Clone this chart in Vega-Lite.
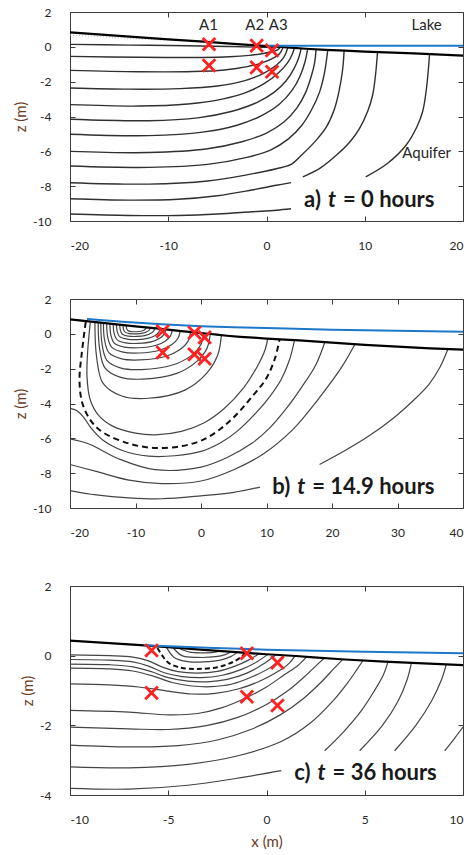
{
"$schema":"https://vega.github.io/schema/vega-lite/v6.json",
"background":"white",
"padding":{"left":13,"top":5,"right":1,"bottom":4},
"spacing":78,
"bounds":"flush",
"config":{
 "view":{"stroke":"#3c3c3c","strokeWidth":1},
 "axis":{"grid":false,"domain":false,"tickColor":"#3c3c3c","tickWidth":1,"tickSize":-5,"labelPadding":24,"labelFont":"Lato","labelFontSize":12,"labelColor":"#262626","labelExpr":"replace(datum.label, '\u2212', '-')","titleFont":"Lato","titleFontSize":15,"titleFontWeight":"normal","titleColor":"#6b3a22","titlePadding":4},
 "text":{"font":"Lato"}
},
"datasets":{
 "surface":[{"x":-20,"z":0.83},{"x":-15,"z":0.63},{"x":-10,"z":0.43},{"x":-6.4,"z":0.3},{"x":-3,"z":0.16},{"x":-1,"z":0.08},{"x":0,"z":0.04},{"x":1.5,"z":-0.01},{"x":2.4,"z":-0.05},{"x":4,"z":-0.11},{"x":6,"z":-0.17},{"x":8,"z":-0.22},{"x":10,"z":-0.27},{"x":15,"z":-0.38},{"x":20,"z":-0.5},{"x":25,"z":-0.63},{"x":30,"z":-0.74},{"x":35,"z":-0.83},{"x":40,"z":-0.91}],
 "lake_a":[{"x":0,"z":0.06},{"x":20,"z":0.06}],
 "lake_b":[{"x":-17.4,"z":0.86},{"x":-12,"z":0.7},{"x":-6,"z":0.55},{"x":0,"z":0.44},{"x":5,"z":0.38},{"x":10,"z":0.33},{"x":20,"z":0.24},{"x":30,"z":0.17},{"x":40,"z":0.12}],
 "lake_c":[{"x":-6.25,"z":0.3},{"x":-3,"z":0.23},{"x":0,"z":0.17},{"x":5,"z":0.115},{"x":10,"z":0.07}],
 "sensors":[{"x":-5.85,"z":0.15},{"x":-5.85,"z":-1.07},{"x":-1.0,"z":0.07},{"x":-1.0,"z":-1.18},{"x":0.56,"z":-0.2},{"x":0.56,"z":-1.43}],
 "a_text":[{"x":-5.9,"z":1.23,"t":"A1"},{"x":-1.2,"z":1.23,"t":"A2"},{"x":1.2,"z":1.23,"t":"A3"},{"x":16.3,"z":1.23,"t":"Lake"},{"x":16.3,"z":-6.07,"t":"Aquifer"}],
 "labels":[{"p":"a","x":6.66,"z":-8.81,"pre":"a)","t":"t","post":"= 0 hours"},{"p":"b","x":15.3,"z":-8.81,"pre":"b)","t":"t","post":"= 14.9 hours"},{"p":"c","x":2.8,"z":-3.38,"pre":"c)","t":"t","post":"= 36 hours"}],
 "a_dots":[{"x":-20,"z":0.68},{"x":-15,"z":0.52},{"x":-10.5,"z":0.38}],
 "a_lines":[
  {"k":"L1","x":-20,"z":0.14},{"k":"L1","x":-14,"z":0.1},{"k":"L1","x":-8,"z":0.06},{"k":"L1","x":-4,"z":0.02},{"k":"L1","x":-1,"z":-0.02},{"k":"L1","x":0.5,"z":-0.03},{"k":"L1","x":1.2,"z":0.01},
  {"k":"L2","x":-20,"z":-0.55},{"k":"L2","x":-13,"z":-0.6},{"k":"L2","x":-6.55,"z":-0.61},{"k":"L2","x":-3.75,"z":-0.57},{"k":"L2","x":-1.75,"z":-0.49},{"k":"L2","x":-0.31,"z":-0.38},{"k":"L2","x":0.65,"z":-0.27},{"k":"L2","x":1.13,"z":-0.17},{"k":"L2","x":1.45,"z":0.0},
  {"k":"L3","x":-20,"z":-1.35},{"k":"L3","x":-13,"z":-1.43},{"k":"L3","x":-7.5,"z":-1.42},{"k":"L3","x":-4.28,"z":-1.33},{"k":"L3","x":-1.98,"z":-1.14},{"k":"L3","x":-0.32,"z":-0.89},{"k":"L3","x":0.78,"z":-0.62},{"k":"L3","x":1.33,"z":-0.4},{"k":"L3","x":1.7,"z":-0.01},
  {"k":"L4","x":-20,"z":-2.36},{"k":"L4","x":-14,"z":-2.43},{"k":"L4","x":-8.8,"z":-2.4},{"k":"L4","x":-5,"z":-2.25},{"k":"L4","x":-2.2,"z":-1.94},{"k":"L4","x":-0.3,"z":-1.52},{"k":"L4","x":1.0,"z":-1.06},{"k":"L4","x":1.7,"z":-0.65},{"k":"L4","x":2.0,"z":-0.32},{"k":"L4","x":2.17,"z":-0.03},
  {"k":"L5","x":-20,"z":-3.32},{"k":"L5","x":-13,"z":-3.4},{"k":"L5","x":-8,"z":-3.28},{"k":"L5","x":-4.5,"z":-3.0},{"k":"L5","x":-2,"z":-2.6},{"k":"L5","x":-0.2,"z":-2.1},{"k":"L5","x":1.2,"z":-1.5},{"k":"L5","x":2.1,"z":-0.95},{"k":"L5","x":2.6,"z":-0.45},{"k":"L5","x":2.85,"z":-0.05},
  {"k":"L6","x":-20,"z":-4.16},{"k":"L6","x":-12,"z":-4.24},{"k":"L6","x":-7,"z":-4.08},{"k":"L6","x":-3.5,"z":-3.7},{"k":"L6","x":-1,"z":-3.2},{"k":"L6","x":0.8,"z":-2.6},{"k":"L6","x":2.0,"z":-1.95},{"k":"L6","x":2.8,"z":-1.25},{"k":"L6","x":3.3,"z":-0.6},{"k":"L6","x":3.53,"z":-0.08},
  {"k":"L7","x":-20,"z":-5.02},{"k":"L7","x":-12,"z":-5.1},{"k":"L7","x":-6.5,"z":-4.9},{"k":"L7","x":-3,"z":-4.5},{"k":"L7","x":-0.5,"z":-3.95},{"k":"L7","x":1.3,"z":-3.3},{"k":"L7","x":2.6,"z":-2.5},{"k":"L7","x":3.4,"z":-1.7},{"k":"L7","x":3.9,"z":-0.9},{"k":"L7","x":4.2,"z":-0.1},
  {"k":"L8","x":-20,"z":-6.0},{"k":"L8","x":-12,"z":-6.07},{"k":"L8","x":-6,"z":-5.85},{"k":"L8","x":-2.5,"z":-5.45},{"k":"L8","x":0,"z":-4.95},{"k":"L8","x":1.8,"z":-4.3},{"k":"L8","x":3.1,"z":-3.5},{"k":"L8","x":4.0,"z":-2.6},{"k":"L8","x":4.6,"z":-1.6},{"k":"L8","x":4.9,"z":-0.9},{"k":"L8","x":5.05,"z":-0.13},
  {"k":"L9","x":-20,"z":-6.84},{"k":"L9","x":-12,"z":-6.92},{"k":"L9","x":-6,"z":-6.75},{"k":"L9","x":-2,"z":-6.35},{"k":"L9","x":0.5,"z":-5.9},{"k":"L9","x":2.2,"z":-5.3},{"k":"L9","x":3.6,"z":-4.5},{"k":"L9","x":4.6,"z":-3.6},{"k":"L9","x":5.4,"z":-2.6},{"k":"L9","x":5.9,"z":-1.5},{"k":"L9","x":6.24,"z":-0.16},
  {"k":"L10","x":-20,"z":-7.8},{"k":"L10","x":-12,"z":-7.88},{"k":"L10","x":-6,"z":-7.7},{"k":"L10","x":-2,"z":-7.35},{"k":"L10","x":1,"z":-7.0},{"k":"L10","x":2.5,"z":-6.75},{"k":"L10","x":3.6,"z":-6.2},{"k":"L10","x":5,"z":-5.4},{"k":"L10","x":6.1,"z":-4.6},{"k":"L10","x":6.9,"z":-3.6},{"k":"L10","x":7.4,"z":-2.5},{"k":"L10","x":7.75,"z":-1.3},{"k":"L10","x":7.9,"z":-0.2},
  {"k":"L11a","x":-20,"z":-8.72},{"k":"L11a","x":-14,"z":-8.8},{"k":"L11a","x":-9,"z":-8.75},{"k":"L11a","x":-5,"z":-8.55},{"k":"L11a","x":-1.5,"z":-8.22},{"k":"L11a","x":1,"z":-7.95},{"k":"L11a","x":2.5,"z":-7.8},
  {"k":"L11b","x":3.7,"z":-7.47},{"k":"L11b","x":5.5,"z":-6.95},{"k":"L11b","x":7.1,"z":-6.23},{"k":"L11b","x":8.5,"z":-5.45},{"k":"L11b","x":9.46,"z":-4.7},{"k":"L11b","x":10.3,"z":-3.7},{"k":"L11b","x":10.8,"z":-2.78},{"k":"L11b","x":11.1,"z":-1.6},{"k":"L11b","x":11.3,"z":-0.3},
  {"k":"L12a","x":-20,"z":-9.6},{"k":"L12a","x":-14,"z":-9.68},{"k":"L12a","x":-9,"z":-9.68},{"k":"L12a","x":-5,"z":-9.6},{"k":"L12a","x":-1.5,"z":-9.47},{"k":"L12a","x":1,"z":-9.38},{"k":"L12a","x":2.5,"z":-9.3},
  {"k":"L12b","x":10.1,"z":-7.47},{"k":"L12b","x":12.3,"z":-6.7},{"k":"L12b","x":14.2,"z":-5.65},{"k":"L12b","x":15.3,"z":-4.6},{"k":"L12b","x":15.9,"z":-3.7},{"k":"L12b","x":16.3,"z":-2.3},{"k":"L12b","x":16.6,"z":-0.4}
 ],
 "b_lines":[
  {"k":"B1","x":-11.4,"z":0.47},{"k":"B1","x":-11.36,"z":0.31},{"k":"B1","x":-11.18,"z":0.19},{"k":"B1","x":-10.65,"z":0.13},{"k":"B1","x":-9.9,"z":0.12},{"k":"B1","x":-9.15,"z":0.15},{"k":"B1","x":-8.7,"z":0.21},{"k":"B1","x":-8.48,"z":0.28},{"k":"B1","x":-8.4,"z":0.35},
  {"k":"B2","x":-11.9,"z":0.49},{"k":"B2","x":-11.84,"z":0.27},{"k":"B2","x":-11.6,"z":0.1},{"k":"B2","x":-10.9,"z":0.015},{"k":"B2","x":-9.9,"z":0.0},{"k":"B2","x":-8.85,"z":0.04},{"k":"B2","x":-8.22,"z":0.13},{"k":"B2","x":-7.9,"z":0.22},{"k":"B2","x":-7.8,"z":0.32},
  {"k":"B3","x":-12.4,"z":0.51},{"k":"B3","x":-12.32,"z":0.21},{"k":"B3","x":-12.01,"z":-0.02},{"k":"B3","x":-11.1,"z":-0.13},{"k":"B3","x":-9.8,"z":-0.15},{"k":"B3","x":-8.45,"z":-0.09},{"k":"B3","x":-7.64,"z":0.03},{"k":"B3","x":-7.24,"z":0.15},{"k":"B3","x":-7.1,"z":0.29},
  {"k":"B4","x":-12.9,"z":0.53},{"k":"B4","x":-12.8,"z":0.14},{"k":"B4","x":-12.42,"z":-0.16},{"k":"B4","x":-11.3,"z":-0.3},{"k":"B4","x":-9.7,"z":-0.33},{"k":"B4","x":-8.0,"z":-0.25},{"k":"B4","x":-6.98,"z":-0.09},{"k":"B4","x":-6.47,"z":0.08},{"k":"B4","x":-6.3,"z":0.26},
  {"k":"B5","x":-13.4,"z":0.55},{"k":"B5","x":-13.29,"z":0.055},{"k":"B5","x":-12.83,"z":-0.33},{"k":"B5","x":-11.5,"z":-0.52},{"k":"B5","x":-9.6,"z":-0.55},{"k":"B5","x":-7.5,"z":-0.45},{"k":"B5","x":-6.24,"z":-0.24},{"k":"B5","x":-5.61,"z":-0.02},{"k":"B5","x":-5.4,"z":0.22},
  {"k":"B6","x":-13.9,"z":0.57},{"k":"B6","x":-13.77,"z":-0.05},{"k":"B6","x":-13.24,"z":-0.53},{"k":"B6","x":-11.7,"z":-0.76},{"k":"B6","x":-9.5,"z":-0.8},{"k":"B6","x":-6.95,"z":-0.67},{"k":"B6","x":-5.42,"z":-0.41},{"k":"B6","x":-4.66,"z":-0.12},{"k":"B6","x":-4.4,"z":0.18},
  {"k":"B7","x":-14.4,"z":0.59},{"k":"B7","x":-14.25,"z":-0.17},{"k":"B7","x":-13.65,"z":-0.76},{"k":"B7","x":-11.9,"z":-1.05},{"k":"B7","x":-9.4,"z":-1.1},{"k":"B7","x":-6.3,"z":-0.94},{"k":"B7","x":-4.44,"z":-0.61},{"k":"B7","x":-3.51,"z":-0.25},{"k":"B7","x":-3.2,"z":0.13},
  {"k":"B8","x":-14.9,"z":0.61},{"k":"B8","x":-14.73,"z":-0.34},{"k":"B8","x":-14.06,"z":-1.08},{"k":"B8","x":-12.1,"z":-1.44},{"k":"B8","x":-9.3,"z":-1.5},{"k":"B8","x":-5.45,"z":-1.3},{"k":"B8","x":-3.14,"z":-0.88},{"k":"B8","x":-1.99,"z":-0.43},{"k":"B8","x":-1.6,"z":0.05},
  {"k":"B9","x":-15.3,"z":0.62},{"k":"B9","x":-15.11,"z":-0.58},{"k":"B9","x":-14.37,"z":-1.52},{"k":"B9","x":-12.2,"z":-1.97},{"k":"B9","x":-9.1,"z":-2.05},{"k":"B9","x":-4.35,"z":-1.79},{"k":"B9","x":-1.5,"z":-1.25},{"k":"B9","x":-0.08,"z":-0.66},{"k":"B9","x":0.4,"z":-0.04},
  {"k":"B10","x":-15.7,"z":0.64},{"k":"B10","x":-15.49,"z":-0.82},{"k":"B10","x":-14.67,"z":-1.95},{"k":"B10","x":-12.25,"z":-2.5},{"k":"B10","x":-8.8,"z":-2.6},{"k":"B10","x":-3.7,"z":-2.27},{"k":"B10","x":-0.64,"z":-1.58},{"k":"B10","x":0.89,"z":-0.85},{"k":"B10","x":1.4,"z":-0.06},
  {"k":"B11","x":-16.2,"z":0.66},{"k":"B11","x":-15.95,"z":-1.3},{"k":"B11","x":-14.97,"z":-2.83},{"k":"B11","x":-12.1,"z":-3.57},{"k":"B11","x":-8.0,"z":-3.7},{"k":"B11","x":-2.45,"z":-3.23},{"k":"B11","x":0.88,"z":-2.26},{"k":"B11","x":2.55,"z":-1.22},{"k":"B11","x":3.1,"z":-0.1},
  {"k":"B12","x":-16.9,"z":0.66},{"k":"B12","x":-17.3,"z":-1.0},{"k":"B12","x":-17.4,"z":-2.5},{"k":"B12","x":-16.9,"z":-3.8},{"k":"B12","x":-15.6,"z":-4.7},{"k":"B12","x":-13.5,"z":-5.3},{"k":"B12","x":-10,"z":-5.7},{"k":"B12","x":-7,"z":-5.8},{"k":"B12","x":-3,"z":-5.6},{"k":"B12","x":0.5,"z":-5.1},{"k":"B12","x":3.5,"z":-4.3},{"k":"B12","x":6.5,"z":-3.1},{"k":"B12","x":8.7,"z":-1.8},{"k":"B12","x":9.8,"z":-0.9},{"k":"B12","x":10.2,"z":-0.25},
  {"k":"B13","x":-20,"z":-4.28},{"k":"B13","x":-19,"z":-4.4},{"k":"B13","x":-18,"z":-4.75},{"k":"B13","x":-16.8,"z":-5.4},{"k":"B13","x":-15,"z":-6.1},{"k":"B13","x":-12,"z":-6.7},{"k":"B13","x":-8,"z":-7.02},{"k":"B13","x":-4,"z":-7.0},{"k":"B13","x":0,"z":-6.75},{"k":"B13","x":3,"z":-6.25},{"k":"B13","x":5.5,"z":-5.6},{"k":"B13","x":8.5,"z":-4.5},{"k":"B13","x":10.5,"z":-3.6},{"k":"B13","x":12.2,"z":-2.65},{"k":"B13","x":13.5,"z":-1.5},{"k":"B13","x":14.3,"z":-0.33},
  {"k":"B14","x":-20,"z":-6.03},{"k":"B14","x":-17.2,"z":-6.31},{"k":"B14","x":-12.6,"z":-7.17},{"k":"B14","x":-7,"z":-7.8},{"k":"B14","x":0,"z":-7.65},{"k":"B14","x":4,"z":-7.1},{"k":"B14","x":7.7,"z":-6.3},{"k":"B14","x":10.5,"z":-5.4},{"k":"B14","x":13,"z":-4.3},{"k":"B14","x":15.3,"z":-3.1},{"k":"B14","x":17.5,"z":-1.8},{"k":"B14","x":18.9,"z":-0.48},
  {"k":"B15","x":-20,"z":-7.5},{"k":"B15","x":-16,"z":-7.9},{"k":"B15","x":-11,"z":-8.4},{"k":"B15","x":-6,"z":-8.6},{"k":"B15","x":0,"z":-8.45},{"k":"B15","x":5,"z":-7.8},{"k":"B15","x":9.5,"z":-6.9},{"k":"B15","x":14,"z":-5.5},{"k":"B15","x":18,"z":-3.7},{"k":"B15","x":21.5,"z":-1.9},{"k":"B15","x":23.5,"z":-0.6},
  {"k":"B16","x":-20,"z":-9.0},{"k":"B16","x":-16,"z":-9.25},{"k":"B16","x":-11,"z":-9.42},{"k":"B16","x":-6,"z":-9.47},{"k":"B16","x":0,"z":-9.3},{"k":"B16","x":5,"z":-9.1},{"k":"B16","x":9,"z":-8.8},
  {"k":"B17","x":18.1,"z":-7.5},{"k":"B17","x":22,"z":-6.7},{"k":"B17","x":25.5,"z":-5.9},{"k":"B17","x":29.5,"z":-4.8},{"k":"B17","x":32.5,"z":-3.8},{"k":"B17","x":34.8,"z":-2.9},{"k":"B17","x":36.5,"z":-1.9},{"k":"B17","x":37.7,"z":-0.87}
 ],
 "b_dash":[{"x":-17.6,"z":0.68},{"x":-18.2,"z":-1.1},{"x":-18.55,"z":-2.7},{"x":-18.1,"z":-4.0},{"x":-16.8,"z":-5.0},{"x":-15.0,"z":-5.65},{"x":-11,"z":-6.3},{"x":-7.2,"z":-6.55},{"x":-3,"z":-6.45},{"x":0.2,"z":-6.1},{"x":3,"z":-5.45},{"x":5.5,"z":-4.6},{"x":7.8,"z":-3.6},{"x":9.9,"z":-2.6},{"x":11.3,"z":-1.4},{"x":12,"z":-0.3}],
 "c_lines":[
  {"k":"C1","x":-4.4,"z":0.2},{"k":"C1","x":-3.9,"z":0.1},{"k":"C1","x":-3.3,"z":0.08},{"k":"C1","x":-2.8,"z":0.09},{"k":"C1","x":-2.37,"z":0.13},
  {"k":"C2","x":-4.74,"z":0.22},{"k":"C2","x":-4.3,"z":0.0},{"k":"C2","x":-3.5,"z":-0.05},{"k":"C2","x":-2.6,"z":-0.03},{"k":"C2","x":-2.1,"z":0.03},{"k":"C2","x":-1.86,"z":0.1},
  {"k":"C3","x":-5.08,"z":0.23},{"k":"C3","x":-4.7,"z":-0.05},{"k":"C3","x":-4.0,"z":-0.17},{"k":"C3","x":-3.2,"z":-0.18},{"k":"C3","x":-2.3,"z":-0.12},{"k":"C3","x":-1.8,"z":-0.02},{"k":"C3","x":-1.52,"z":0.08},
  {"k":"D1","x":-10,"z":0.02},{"k":"D1","x":-8,"z":0.0},{"k":"D1","x":-6.8,"z":-0.04},{"k":"D1","x":-6,"z":-0.15},{"k":"D1","x":-5.3,"z":-0.33},{"k":"D1","x":-4.5,"z":-0.46},{"k":"D1","x":-3.5,"z":-0.5},{"k":"D1","x":-2.5,"z":-0.45},{"k":"D1","x":-1.6,"z":-0.3},{"k":"D1","x":-0.9,"z":-0.12},{"k":"D1","x":-0.4,"z":0.05},
  {"k":"D2","x":-10,"z":-0.11},{"k":"D2","x":-8,"z":-0.13},{"k":"D2","x":-6.8,"z":-0.18},{"k":"D2","x":-6,"z":-0.3},{"k":"D2","x":-5.2,"z":-0.49},{"k":"D2","x":-4.3,"z":-0.6},{"k":"D2","x":-3.3,"z":-0.63},{"k":"D2","x":-2.3,"z":-0.57},{"k":"D2","x":-1.3,"z":-0.4},{"k":"D2","x":-0.5,"z":-0.18},{"k":"D2","x":0.05,"z":0.03},
  {"k":"D3","x":-10,"z":-0.24},{"k":"D3","x":-8,"z":-0.26},{"k":"D3","x":-6.8,"z":-0.32},{"k":"D3","x":-5.9,"z":-0.45},{"k":"D3","x":-5,"z":-0.63},{"k":"D3","x":-4,"z":-0.73},{"k":"D3","x":-3,"z":-0.75},{"k":"D3","x":-2,"z":-0.68},{"k":"D3","x":-1,"z":-0.5},{"k":"D3","x":-0.1,"z":-0.22},{"k":"D3","x":0.45,"z":0.01},
  {"k":"D4","x":-10,"z":-0.36},{"k":"D4","x":-8,"z":-0.38},{"k":"D4","x":-6.8,"z":-0.44},{"k":"D4","x":-5.8,"z":-0.58},{"k":"D4","x":-4.8,"z":-0.77},{"k":"D4","x":-3.8,"z":-0.87},{"k":"D4","x":-2.8,"z":-0.89},{"k":"D4","x":-1.8,"z":-0.82},{"k":"D4","x":-0.7,"z":-0.6},{"k":"D4","x":0.3,"z":-0.3},{"k":"D4","x":0.85,"z":0.0},
  {"k":"D5","x":-10,"z":-0.81},{"k":"D5","x":-8,"z":-0.84},{"k":"D5","x":-6.5,"z":-0.9},{"k":"D5","x":-5,"z":-1.02},{"k":"D5","x":-3.8,"z":-1.1},{"k":"D5","x":-2.6,"z":-1.08},{"k":"D5","x":-1.4,"z":-0.95},{"k":"D5","x":-0.3,"z":-0.72},{"k":"D5","x":0.6,"z":-0.45},{"k":"D5","x":1.15,"z":-0.22},{"k":"D5","x":1.43,"z":-0.02},
  {"k":"D6","x":-10,"z":-1.57},{"k":"D6","x":-7,"z":-1.62},{"k":"D6","x":-5,"z":-1.7},{"k":"D6","x":-3.5,"z":-1.66},{"k":"D6","x":-2.3,"z":-1.5},{"k":"D6","x":-1,"z":-1.2},{"k":"D6","x":0,"z":-0.9},{"k":"D6","x":0.9,"z":-0.55},{"k":"D6","x":1.6,"z":-0.28},{"k":"D6","x":2.03,"z":-0.04},
  {"k":"D7","x":-10,"z":-2.05},{"k":"D7","x":-7,"z":-2.1},{"k":"D7","x":-5,"z":-2.12},{"k":"D7","x":-3,"z":-2.0},{"k":"D7","x":-1.5,"z":-1.78},{"k":"D7","x":0,"z":-1.4},{"k":"D7","x":1.1,"z":-1.0},{"k":"D7","x":1.9,"z":-0.62},{"k":"D7","x":2.5,"z":-0.3},{"k":"D7","x":2.96,"z":-0.06},
  {"k":"D8","x":-10,"z":-2.57},{"k":"D8","x":-7,"z":-2.62},{"k":"D8","x":-4.5,"z":-2.58},{"k":"D8","x":-2.5,"z":-2.42},{"k":"D8","x":-0.8,"z":-2.12},{"k":"D8","x":0.7,"z":-1.7},{"k":"D8","x":1.9,"z":-1.22},{"k":"D8","x":2.8,"z":-0.75},{"k":"D8","x":3.45,"z":-0.36},{"k":"D8","x":3.89,"z":-0.1},
  {"k":"D9","x":-10,"z":-3.19},{"k":"D9","x":-7,"z":-3.22},{"k":"D9","x":-4,"z":-3.12},{"k":"D9","x":-1.5,"z":-2.88},{"k":"D9","x":0.8,"z":-2.45},{"k":"D9","x":2.2,"z":-1.95},{"k":"D9","x":3.3,"z":-1.35},{"k":"D9","x":4.1,"z":-0.8},{"k":"D9","x":4.6,"z":-0.4},{"k":"D9","x":4.91,"z":-0.14},
  {"k":"D10a","x":-10,"z":-3.81},{"k":"D10a","x":-7,"z":-3.83},{"k":"D10a","x":-4,"z":-3.72},{"k":"D10a","x":-1.5,"z":-3.52},{"k":"D10a","x":0.75,"z":-3.3},
  {"k":"D10b","x":2.96,"z":-2.73},{"k":"D10b","x":3.9,"z":-2.2},{"k":"D10b","x":4.8,"z":-1.6},{"k":"D10b","x":5.5,"z":-1.0},{"k":"D10b","x":5.95,"z":-0.55},{"k":"D10b","x":6.18,"z":-0.18},
  {"k":"E1","x":4.74,"z":-2.73},{"k":"E1","x":5.9,"z":-2.0},{"k":"E1","x":6.7,"z":-1.3},{"k":"E1","x":7.15,"z":-0.7},{"k":"E1","x":7.37,"z":-0.22},
  {"k":"E2","x":6.52,"z":-2.73},{"k":"E2","x":7.6,"z":-2.0},{"k":"E2","x":8.4,"z":-1.3},{"k":"E2","x":8.9,"z":-0.7},{"k":"E2","x":9.15,"z":-0.25},
  {"k":"E3","x":9.07,"z":-2.73},{"k":"E3","x":9.6,"z":-2.35},{"k":"E3","x":10,"z":-2.05}
 ],
 "c_dash":[{"x":-5.55,"z":0.22},{"x":-5.3,"z":0.0},{"x":-5.0,"z":-0.2},{"x":-4.4,"z":-0.34},{"x":-3.5,"z":-0.38},{"x":-2.5,"z":-0.33},{"x":-1.7,"z":-0.18},{"x":-1.25,"z":-0.02},{"x":-1.05,"z":0.1}]
},
"vconcat":[
 {
  "width":393,"height":209,
  "encoding":{
   "x":{"field":"x","type":"quantitative","scale":{"domain":[-20,20],"nice":false,"zero":false},"axis":null},
   "y":{"field":"z","type":"quantitative","scale":{"domain":[-10,2],"nice":false,"zero":false},"axis":null}
  },
  "layer":[
   {"data":{"name":"a_lines"},"mark":{"type":"line","stroke":"#303030","strokeWidth":1.4,"interpolate":"catmull-rom","clip":true},
    "encoding":{
     "x":{"field":"x","type":"quantitative","scale":{"domain":[-20,20],"nice":false,"zero":false},"axis":{"values":[-20,-10,0,10,20],"title":null}},
     "y":{"field":"z","type":"quantitative","scale":{"domain":[-10,2],"nice":false,"zero":false},"axis":{"values":[-10,-8,-6,-4,-2,0,2],"title":"z (m)"}},
     "detail":{"field":"k"},"order":{"value":null}}},
   {"data":{"name":"a_dots"},"mark":{"type":"line","stroke":"#b8b8b8","strokeWidth":1,"strokeDash":[1,2]},"encoding":{"order":{"value":null}}},
   {"data":{"name":"surface"},"mark":{"type":"line","stroke":"#000000","strokeWidth":2.2,"clip":true},
    "encoding":{
     "x":{"field":"x","type":"quantitative","scale":{"domain":[-20,20],"nice":false,"zero":false},"axis":{"orient":"top","values":[-20,-10,0,10,20],"labels":false,"title":null}},
     "y":{"field":"z","type":"quantitative","scale":{"domain":[-10,2],"nice":false,"zero":false},"axis":{"orient":"right","values":[-10,-8,-6,-4,-2,0,2],"labels":false,"title":null}}}},
   {"data":{"name":"lake_a"},"mark":{"type":"line","stroke":"#1e78c8","strokeWidth":2},"encoding":{}},
   {"data":{"name":"sensors"},"mark":{"type":"point","shape":"M-1,-1L1,1M-1,1L1,-1","size":160,"strokeWidth":2.8,"color":"#ff2020","opacity":1},"encoding":{}},
   {"data":{"name":"a_text"},"mark":{"type":"text","fontSize":15,"color":"#262626"},"encoding":{"text":{"field":"t"}}},
   {"data":{"name":"labels"},"transform":[{"filter":"datum.p === 'a'"}],"mark":{"type":"text","align":"right","dx":-11,"fontSize":22,"fontWeight":"bold","color":"#1a1a1a"},"encoding":{"text":{"field":"pre"}}},
   {"data":{"name":"labels"},"transform":[{"filter":"datum.p === 'a'"}],"mark":{"type":"text","align":"center","fontSize":22,"fontWeight":"bold","fontStyle":"italic","color":"#1a1a1a"},"encoding":{"text":{"field":"t"}}},
   {"data":{"name":"labels"},"transform":[{"filter":"datum.p === 'a'"}],"mark":{"type":"text","align":"left","dx":11,"fontSize":22,"fontWeight":"bold","color":"#1a1a1a"},"encoding":{"text":{"field":"post"}}}
  ],
  "resolve":{"axis":{"x":"independent","y":"independent"}}
 },
 {
  "width":393,"height":209,
  "encoding":{
   "x":{"field":"x","type":"quantitative","scale":{"domain":[-20,40],"nice":false,"zero":false},"axis":null},
   "y":{"field":"z","type":"quantitative","scale":{"domain":[-10,2],"nice":false,"zero":false},"axis":null}
  },
  "layer":[
   {"data":{"name":"b_lines"},"mark":{"type":"line","stroke":"#444444","strokeWidth":1.2,"interpolate":"catmull-rom","clip":true},
    "encoding":{
     "x":{"field":"x","type":"quantitative","scale":{"domain":[-20,40],"nice":false,"zero":false},"axis":{"values":[-20,-10,0,10,20,30,40],"title":null}},
     "y":{"field":"z","type":"quantitative","scale":{"domain":[-10,2],"nice":false,"zero":false},"axis":{"values":[-10,-8,-6,-4,-2,0,2],"title":"z (m)"}},
     "detail":{"field":"k"},"order":{"value":null}}},
   {"data":{"name":"b_dash"},"mark":{"type":"line","stroke":"#111111","strokeWidth":2,"strokeDash":[6,4],"interpolate":"catmull-rom"},"encoding":{"order":{"value":null}}},
   {"data":{"name":"surface"},"mark":{"type":"line","stroke":"#000000","strokeWidth":2.2,"clip":true},
    "encoding":{
     "x":{"field":"x","type":"quantitative","scale":{"domain":[-20,40],"nice":false,"zero":false},"axis":{"orient":"top","values":[-20,-10,0,10,20,30,40],"labels":false,"title":null}},
     "y":{"field":"z","type":"quantitative","scale":{"domain":[-10,2],"nice":false,"zero":false},"axis":{"orient":"right","values":[-10,-8,-6,-4,-2,0,2],"labels":false,"title":null}}}},
   {"data":{"name":"lake_b"},"mark":{"type":"line","stroke":"#1e78c8","strokeWidth":2,"interpolate":"monotone"},"encoding":{}},
   {"data":{"name":"sensors"},"mark":{"type":"point","shape":"M-1,-1L1,1M-1,1L1,-1","size":160,"strokeWidth":2.8,"color":"#ff2020","opacity":1},"encoding":{}},
   {"data":{"name":"labels"},"transform":[{"filter":"datum.p === 'b'"}],"mark":{"type":"text","align":"right","dx":-11,"fontSize":22,"fontWeight":"bold","color":"#1a1a1a"},"encoding":{"text":{"field":"pre"}}},
   {"data":{"name":"labels"},"transform":[{"filter":"datum.p === 'b'"}],"mark":{"type":"text","align":"center","fontSize":22,"fontWeight":"bold","fontStyle":"italic","color":"#1a1a1a"},"encoding":{"text":{"field":"t"}}},
   {"data":{"name":"labels"},"transform":[{"filter":"datum.p === 'b'"}],"mark":{"type":"text","align":"left","dx":11,"fontSize":22,"fontWeight":"bold","color":"#1a1a1a"},"encoding":{"text":{"field":"post"}}}
  ],
  "resolve":{"axis":{"x":"independent","y":"independent"}}
 },
 {
  "width":393,"height":209,
  "encoding":{
   "x":{"field":"x","type":"quantitative","scale":{"domain":[-10,10],"nice":false,"zero":false},"axis":null},
   "y":{"field":"z","type":"quantitative","scale":{"domain":[-4,2],"nice":false,"zero":false},"axis":null}
  },
  "layer":[
   {"data":{"name":"c_lines"},"mark":{"type":"line","stroke":"#444444","strokeWidth":1.2,"interpolate":"catmull-rom","clip":true},
    "encoding":{
     "x":{"field":"x","type":"quantitative","scale":{"domain":[-10,10],"nice":false,"zero":false},"axis":{"values":[-10,-5,0,5,10],"title":"x (m)","titlePadding":9}},
     "y":{"field":"z","type":"quantitative","scale":{"domain":[-4,2],"nice":false,"zero":false},"axis":{"values":[-4,-2,0,2],"title":"z (m)"}},
     "detail":{"field":"k"},"order":{"value":null}}},
   {"data":{"name":"c_dash"},"mark":{"type":"line","stroke":"#111111","strokeWidth":2,"strokeDash":[5,3],"interpolate":"catmull-rom"},"encoding":{"order":{"value":null}}},
   {"data":{"name":"surface"},"mark":{"type":"line","stroke":"#000000","strokeWidth":2.2,"clip":true},
    "encoding":{
     "x":{"field":"x","type":"quantitative","scale":{"domain":[-10,10],"nice":false,"zero":false},"axis":{"orient":"top","values":[-10,-5,0,5,10],"labels":false,"title":null}},
     "y":{"field":"z","type":"quantitative","scale":{"domain":[-4,2],"nice":false,"zero":false},"axis":{"orient":"right","values":[-4,-2,0,2],"labels":false,"title":null}}}},
   {"data":{"name":"lake_c"},"mark":{"type":"line","stroke":"#1e78c8","strokeWidth":2},"encoding":{}},
   {"data":{"name":"sensors"},"mark":{"type":"point","shape":"M-1,-1L1,1M-1,1L1,-1","size":160,"strokeWidth":2.8,"color":"#ff2020","opacity":1},"encoding":{}},
   {"data":{"name":"labels"},"transform":[{"filter":"datum.p === 'c'"}],"mark":{"type":"text","align":"right","dx":-11,"fontSize":22,"fontWeight":"bold","color":"#1a1a1a"},"encoding":{"text":{"field":"pre"}}},
   {"data":{"name":"labels"},"transform":[{"filter":"datum.p === 'c'"}],"mark":{"type":"text","align":"center","fontSize":22,"fontWeight":"bold","fontStyle":"italic","color":"#1a1a1a"},"encoding":{"text":{"field":"t"}}},
   {"data":{"name":"labels"},"transform":[{"filter":"datum.p === 'c'"}],"mark":{"type":"text","align":"left","dx":11,"fontSize":22,"fontWeight":"bold","color":"#1a1a1a"},"encoding":{"text":{"field":"post"}}}
  ],
  "resolve":{"axis":{"x":"independent","y":"independent"}}
 }
]
}
